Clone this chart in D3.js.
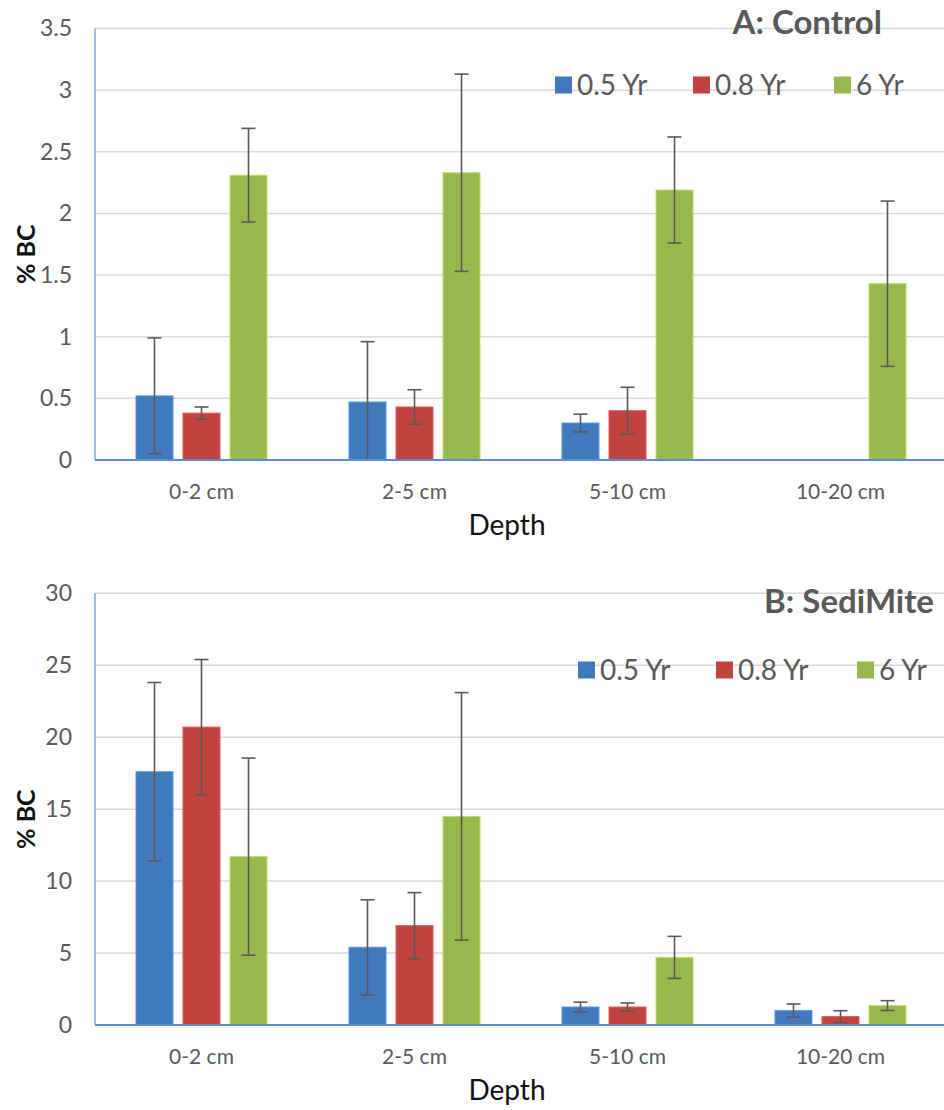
<!DOCTYPE html>
<html>
<head>
<meta charset="utf-8">
<script src="https://cdn.jsdelivr.net/npm/d3@7"></script>
<style>
  html, body { margin: 0; padding: 0; background: #fff; }
  svg { display: block; }
  text { font-family: Lato, "Open Sans", sans-serif; }
</style>
</head>
<body>
<svg id="chart" width="944" height="1110"></svg>
<script>
// ---- data ----
const categories = ["0-2 cm", "2-5 cm", "5-10 cm", "10-20 cm"];
const seriesNames = ["0.5 Yr", "0.8 Yr", "6 Yr"];
const seriesColors = ["#4279BC", "#C0433F", "#98B84E"];

// Panel A: Control
const controlTicks = [0, 0.5, 1, 1.5, 2, 2.5, 3, 3.5];
const control05 = [0.52, 0.47, 0.30, null];
const control08 = [0.38, 0.43, 0.40, null];
const control6 = [2.31, 2.33, 2.19, 1.43];
const control05Err = [0.47, 0.49, 0.072, null];
const control08Err = [0.05, 0.14, 0.19, null];
const control6Err = [0.38, 0.80, 0.43, 0.67];

// Panel B: SediMite
const sediTicks = [0, 5, 10, 15, 20, 25, 30];
const sedi05 = [17.6, 5.4, 1.25, 1.0];
const sedi08 = [20.7, 6.9, 1.25, 0.58];
const sedi6 = [11.7, 14.5, 4.7, 1.35];
const sedi05Err = [6.2, 3.3, 0.34, 0.46];
const sedi08Err = [4.7, 2.3, 0.28, 0.41];
const sedi6Err = [6.85, 8.6, 1.46, 0.34];

const svg = d3.select("#chart");

function panel(opts) {
  const { top, bottom, yMax, ticks, values, errs, title, titleX, titleY, legendX, legendY, tickFmt } = opts;
  const left = 95, right = 947;
  const g = svg.append("g");

  const x0 = d3.scaleBand().domain(categories).range([left, right]).padding(0);
  const bw = x0.bandwidth();
  const x1 = d3.scaleBand().domain(seriesNames)
    .range([bw / 2 - 65.5, bw / 2 + 65.5]).paddingInner(0.213).paddingOuter(0);
  const y = d3.scaleLinear().domain([0, yMax]).range([bottom, top]).clamp(true);

  // gridlines
  g.append("g").selectAll("line").data(ticks.filter(t => t > 0)).join("line")
    .attr("x1", left).attr("x2", right)
    .attr("y1", d => y(d)).attr("y2", d => y(d))
    .attr("stroke", "#D9D9D9").attr("stroke-width", 1.5);

  // y tick labels via axis
  const yAxis = d3.axisLeft(y).tickValues(ticks).tickSize(0).tickPadding(0).tickFormat(tickFmt);
  const ya = g.append("g").attr("transform", `translate(${left - 23},0)`).call(yAxis);
  ya.select(".domain").remove();
  ya.selectAll("text").attr("fill", "#595959").style("font-size", "23px")
    .style("font-family", "Lato, 'Open Sans', sans-serif");

  // bars
  seriesNames.forEach((s, si) => {
    const data = categories.map((c, ci) => ({ c, v: values[si][ci], e: errs[si][ci] }))
      .filter(d => d.v !== null);
    g.append("g").selectAll("rect").data(data).join("rect")
      .attr("x", d => x0(d.c) + x1(s))
      .attr("width", x1.bandwidth())
      .attr("y", d => y(d.v))
      .attr("height", d => y(0) - y(d.v))
      .attr("fill", seriesColors[si])
      .attr("stroke", d3.color(seriesColors[si]).brighter(0.6))
      .attr("stroke-width", 1);
    // error bars
    const eg = g.append("g").attr("stroke", "#595959").attr("stroke-width", 1.6);
    data.forEach(d => {
      const cx = x0(d.c) + x1(s) + x1.bandwidth() / 2;
      const yt = y(d.v + d.e), yb = y(d.v - d.e);
      eg.append("line").attr("x1", cx).attr("x2", cx).attr("y1", yt).attr("y2", yb);
      eg.append("line").attr("x1", cx - 7).attr("x2", cx + 7).attr("y1", yt).attr("y2", yt);
      if (d.v - d.e > 0) eg.append("line").attr("x1", cx - 7).attr("x2", cx + 7).attr("y1", yb).attr("y2", yb);
    });
  });

  // axes lines
  g.append("line").attr("x1", left).attr("x2", left).attr("y1", top).attr("y2", bottom)
    .attr("stroke", "#7FA6D6").attr("stroke-width", 1.5);
  g.append("line").attr("x1", left).attr("x2", right).attr("y1", bottom).attr("y2", bottom)
    .attr("stroke", "#5B8ECB").attr("stroke-width", 2);

  // x axis labels
  const xAxis = d3.axisBottom(x0).tickSize(0).tickPadding(0);
  const xa = g.append("g").attr("transform", `translate(0,${bottom + 24})`).call(xAxis);
  xa.select(".domain").remove();
  xa.selectAll("text").attr("fill", "#595959").style("font-size", "21px")
    .style("font-family", "Lato, 'Open Sans', sans-serif");

  g.append("text").attr("x", 507).attr("y", bottom + 75).attr("text-anchor", "middle")
    .attr("fill", "#111").style("font-size", "28px").text("Depth");

  // y title
  g.append("text").attr("transform", `translate(35,${(top + bottom) / 2 + 10}) rotate(-90)`)
    .attr("text-anchor", "middle").attr("fill", "#111").style("font-size", "25px")
    .style("font-weight", "bold").text("% BC");

  // chart title
  g.append("text").attr("x", titleX).attr("y", titleY).attr("text-anchor", "end")
    .attr("fill", "#595959").style("font-size", "33px").style("font-weight", "bold").text(title);

  // legend
  const legPos = [0, 138, 279];
  seriesNames.forEach((s, i) => {
    const lx = legendX + legPos[i];
    g.append("rect").attr("x", lx).attr("y", legendY - 8.5).attr("width", 17).attr("height", 17)
      .attr("fill", seriesColors[i]);
    g.append("text").attr("x", lx + 22).attr("y", legendY + 10).attr("fill", "#595959")
      .style("font-size", "28px").text(s);
  });
}

panel({
  top: 28.5, bottom: 460, yMax: 3.5, ticks: controlTicks,
  values: [control05, control08, control6], errs: [control05Err, control08Err, control6Err],
  title: "A: Control", titleX: 882, titleY: 34, legendX: 555, legendY: 85,
  tickFmt: d => String(d)
});
panel({
  top: 593.3, bottom: 1025, yMax: 30, ticks: sediTicks,
  values: [sedi05, sedi08, sedi6], errs: [sedi05Err, sedi08Err, sedi6Err],
  title: "B: SediMite", titleX: 934, titleY: 613, legendX: 578, legendY: 670,
  tickFmt: d => String(d)
});
</script>
</body>
</html>
